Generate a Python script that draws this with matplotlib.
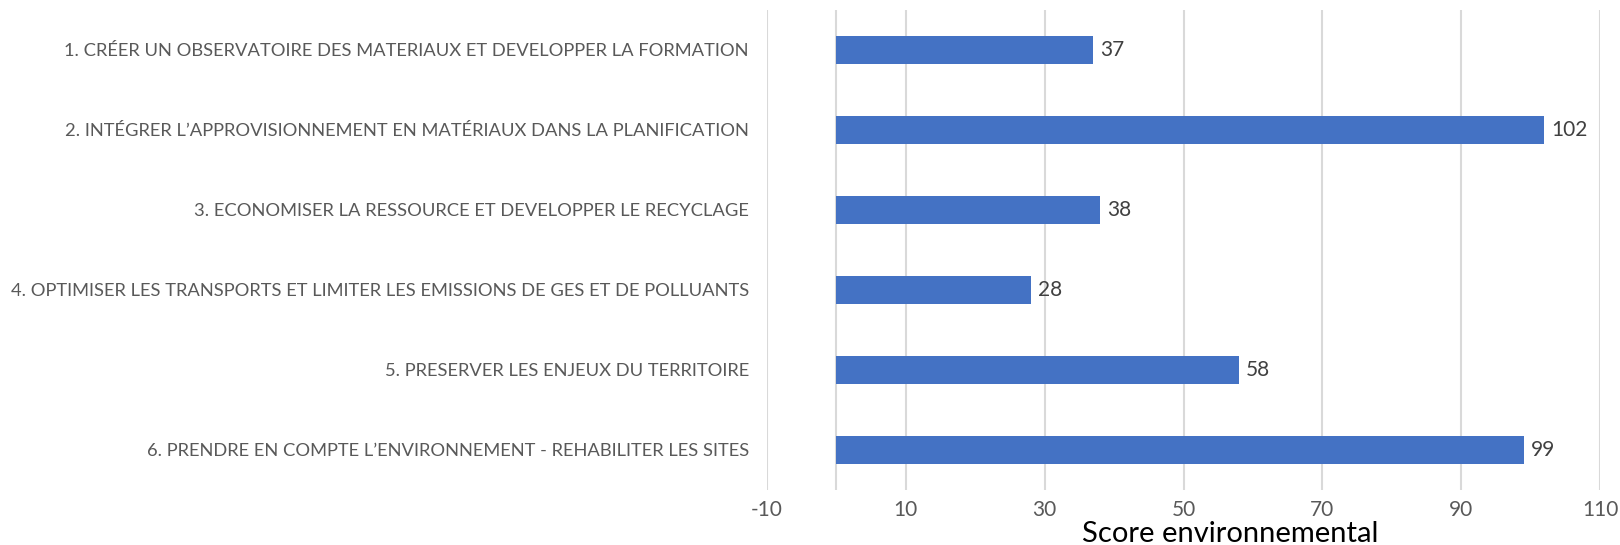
import matplotlib
matplotlib.use("Agg")
import matplotlib.pyplot as plt

# ---------- data ----------
categories = [
    "1. CRÉER UN OBSERVATOIRE DES MATERIAUX ET DEVELOPPER LA FORMATION",
    "2. INTÉGRER L\u2019APPROVISIONNEMENT EN MATÉRIAUX DANS LA PLANIFICATION",
    "3. ECONOMISER LA RESSOURCE ET DEVELOPPER LE RECYCLAGE",
    "4. OPTIMISER LES TRANSPORTS ET LIMITER LES EMISSIONS DE GES ET DE POLLUANTS",
    "5. PRESERVER LES ENJEUX DU TERRITOIRE",
    "6. PRENDRE EN COMPTE L\u2019ENVIRONNEMENT - REHABILITER LES SITES",
]
scores = [37, 102, 38, 28, 58, 99]
xticks = [-10, 10, 30, 50, 70, 90, 110]
xlabel = "Score environnemental"

BAR = "#4472C4"
GRID = "#D9D9D9"
LABEL_GRAY = "#595959"
VALUE_GRAY = "#404040"

plt.rcParams["font.family"] = ["Lato", "DejaVu Sans"]

fig = plt.figure(figsize=(16.2, 5.45), dpi=100)
ax = fig.add_axes([767 / 1620, 1 - 490 / 545, (1600 - 767) / 1620, 480 / 545])

ypos = list(range(len(categories)))
ax.barh(ypos, scores, height=0.36, color=BAR, zorder=3)
for y, v in zip(ypos, scores):
    ax.text(v + 1.0, y, f"{v}", va="center", ha="left", fontsize=15,
            color=VALUE_GRAY, zorder=4)

ax.set_xlim(-10, 110)
ax.set_ylim(len(categories) - 0.5, -0.5)
ax.set_xticks(xticks)
ax.set_xticklabels([str(t) for t in xticks])
ax.set_yticks(ypos)
ax.set_yticklabels(categories)

ax.grid(axis="x", color=GRID, linewidth=1.5, zorder=0)
ax.axvline(0, color=GRID, linewidth=1.5, zorder=1)
for s in ax.spines.values():
    s.set_visible(False)

ax.tick_params(axis="x", length=0, pad=7, labelsize=15, labelcolor=LABEL_GRAY)
ax.tick_params(axis="y", length=0, pad=13, labelsize=13.2, labelcolor=LABEL_GRAY)

fig.text(1230 / 1620, 1 - 542 / 545, xlabel, ha="center", va="baseline",
         fontsize=21, color="black")

fig.savefig("out.png", dpi=100)
